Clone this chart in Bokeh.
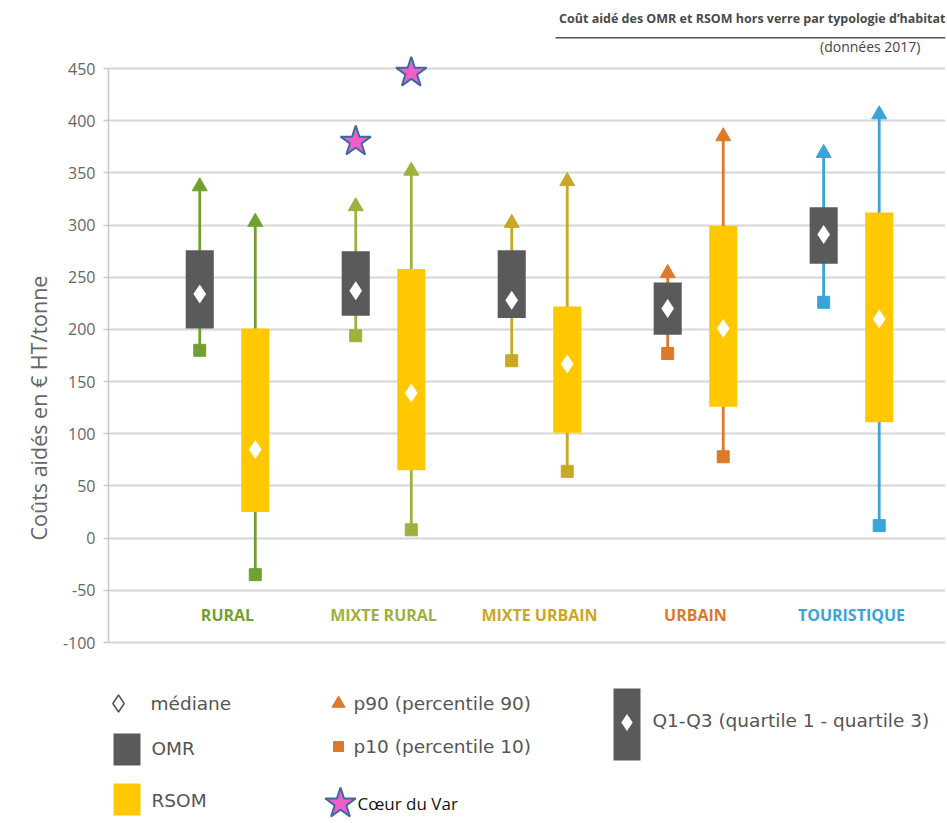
from bokeh.plotting import figure
from bokeh.models import (Range1d, FixedTicker, Label, BoxAnnotation, ColumnDataSource, Title,
                          PrintfTickFormatter)
from bokeh.layouts import column
from bokeh.embed import file_html
from bokeh.resources import INLINE
from bokeh.core.properties import value

# ---------------- data ----------------
categories = ["RURAL", "MIXTE RURAL", "MIXTE URBAIN", "URBAIN", "TOURISTIQUE"]
cat_colors = ["#72a030", "#9fb03c", "#c8a824", "#dc7a2a", "#38a4d8"]

omr_p10 = [180, 194, 170, 177, 226]
omr_q1 = [201, 213, 211, 195, 263]
omr_med = [234, 237, 228, 220, 291]
omr_q3 = [276, 275, 276, 245, 317]
omr_p90 = [337, 318, 302, 254, 369]

rsom_p10 = [-35, 8, 64, 78, 12]
rsom_q1 = [25, 65, 101, 126, 111]
rsom_med = [85, 139, 167, 201, 210]
rsom_q3 = [201, 258, 222, 299, 312]
rsom_p90 = [303, 352, 342, 385, 406]

coeur_group = [1, 1]          # MIXTE RURAL
coeur_series = ["OMR", "RSOM"]
coeur_values = [380, 446]

y_ticks = [-100, -50, 0, 50, 100, 150, 200, 250, 300, 350, 400, 450]

title_text = "Coût aidé des OMR et RSOM hors verre par typologie d\u2019habitat"
subtitle_text = "(données 2017)"
y_label = "Coûts aidés en € HT/tonne"

OMR_COLOR = "#5a5a5a"
RSOM_COLOR = "#ffc800"
STAR_FILL = "#ee5fcb"
STAR_LINE = "#3d6c9c"
TEXT_GRAY = "#555555"
MARK_ORANGE = "#dc7a2a"

# ---------------- chart ----------------
W = 947
H1 = 668
LEFT = 108
RIGHT = 2
FW = W - LEFT - RIGHT
p = figure(width=W, height=H1, output_backend="svg", toolbar_location=None,
           x_range=Range1d(-0.763, 4.603), y_range=Range1d(-124.9, 515.2),
           min_border_left=LEFT, min_border_right=RIGHT, min_border_top=0, min_border_bottom=0)
p.outline_line_color = None
p.xaxis.visible = False
p.xgrid.visible = False

yax = p.yaxis[0]
yax.ticker = FixedTicker(ticks=y_ticks)
yax.formatter = PrintfTickFormatter(format="%d")
yax.bounds = (-100, 450)
yax.axis_line_color = "#c8c8c8"
yax.axis_line_width = 1.5
yax.major_tick_line_color = "#c8c8c8"
yax.major_tick_line_width = 1.5
yax.major_tick_out = 5
yax.major_tick_in = 0
yax.minor_tick_line_color = None
yax.major_label_text_font = "Open Sans"
yax.major_label_text_font_size = "16px"
yax.major_label_text_color = "#666666"
yax.major_label_standoff = 8

p.add_layout(Title(text=y_label, align="left", offset=128, standoff=14,
                   text_font="Open Sans", text_font_size="21.5px",
                   text_font_style="normal", text_color="#666666"), "left")

p.ygrid.ticker = FixedTicker(ticks=y_ticks)
p.ygrid.grid_line_color = "#d6d6d6"
p.ygrid.grid_line_width = 2

off = 0.178
bw = 0.18
x_omr = [i - off for i in range(len(categories))]
x_rsom = [i + off for i in range(len(categories))]

src_omr = ColumnDataSource(dict(x=x_omr, p10=omr_p10, q1=omr_q1, med=omr_med, q3=omr_q3,
                                p90=omr_p90, c=cat_colors))
src_rsom = ColumnDataSource(dict(x=x_rsom, p10=rsom_p10, q1=rsom_q1, med=rsom_med, q3=rsom_q3,
                                 p90=rsom_p90, c=cat_colors))

for src, fill in ((src_omr, OMR_COLOR), (src_rsom, RSOM_COLOR)):
    p.segment(x0="x", y0="p10", x1="x", y1="p90", line_color="c", line_width=2.8, source=src)
    p.scatter(x="x", y="p90", marker="triangle", size=15, fill_color="c", line_color="c", source=src)
    p.scatter(x="x", y="p10", marker="square", size=12, fill_color="c", line_color="c", source=src)
    p.vbar(x="x", bottom="q1", top="q3", width=bw, fill_color=fill, line_color=None, source=src)
    p.scatter(x="x", y="med", marker="diamond", size=19, fill_color="white", line_color=None, source=src)

# Coeur du Var stars
star_x = [g - off if s == "OMR" else g + off for g, s in zip(coeur_group, coeur_series)]
p.scatter(x=star_x, y=coeur_values, marker="star", size=32, fill_color=STAR_FILL,
          line_color=STAR_LINE, line_width=2)

# category labels
p.text(x=list(range(len(categories))), y=[-74] * len(categories), text=categories,
       text_color=cat_colors, text_font=value("Open Sans"), text_font_style="bold",
       text_font_size="16px", text_align="center", text_baseline="middle")

# title + underline + subtitle (screen units relative to the frame)
p.add_layout(Label(x=FW, y=H1 - 18, x_units="screen", y_units="screen", text=title_text,
                   text_align="right", text_baseline="middle", text_font="Open Sans",
                   text_font_size="12.5px", text_font_style="bold", text_color="#4a4a4a"))
p.add_layout(BoxAnnotation(left=FW - 390, right=FW, bottom=H1 - 38, top=H1 - 36.5,
                           left_units="screen", right_units="screen",
                           bottom_units="screen", top_units="screen",
                           fill_color="#555555", fill_alpha=1, line_color=None))
p.add_layout(Label(x=FW - 25, y=H1 - 46, x_units="screen", y_units="screen", text=subtitle_text,
                   text_align="right", text_baseline="middle", text_font="Open Sans",
                   text_font_size="14px", text_color="#444444"))

# ---------------- legend ----------------
H2 = 823 - H1
lg = figure(width=W, height=H2, output_backend="svg", toolbar_location=None,
            x_range=Range1d(LEFT, W - RIGHT), y_range=Range1d(H2, 0),
            min_border_left=LEFT, min_border_right=RIGHT, min_border_top=0, min_border_bottom=0)
lg.outline_line_color = None
lg.axis.visible = False
lg.grid.visible = False

lf = value("DejaVu Sans")
fs = "18.5px"
lg.scatter(x=[118], y=[35], marker="diamond", size=17, fill_color="white",
           line_color="#555555", line_width=1.5)
lg.text(x=[150], y=[35], text=["médiane"], text_font=lf, text_font_size=fs,
        text_color=TEXT_GRAY, text_baseline="middle")

lg.rect(x=[126.5], y=[81], width=27, height=32, fill_color=OMR_COLOR, line_color=None)
lg.text(x=[151], y=[80], text=["OMR"], text_font=lf, text_font_size=fs,
        text_color=TEXT_GRAY, text_baseline="middle")
lg.rect(x=[126.5], y=[131], width=27, height=32, fill_color=RSOM_COLOR, line_color=None)
lg.text(x=[151], y=[132], text=["RSOM"], text_font=lf, text_font_size=fs,
        text_color=TEXT_GRAY, text_baseline="middle")

lg.scatter(x=[338], y=[35], marker="triangle", size=13, fill_color=MARK_ORANGE, line_color=MARK_ORANGE)
lg.text(x=[353], y=[35], text=["p90 (percentile 90)"], text_font=lf, text_font_size=fs,
        text_color=TEXT_GRAY, text_baseline="middle")
lg.scatter(x=[338], y=[78], marker="square", size=10, fill_color=MARK_ORANGE, line_color=MARK_ORANGE)
lg.text(x=[353], y=[78], text=["p10 (percentile 10)"], text_font=lf, text_font_size=fs,
        text_color=TEXT_GRAY, text_baseline="middle")
lg.scatter(x=[340], y=[135], marker="star", size=32, fill_color=STAR_FILL,
           line_color=STAR_LINE, line_width=2)
lg.text(x=[357], y=[135], text=["Cœur du Var"], text_font=value("Open Sans"), text_font_size="17px",
        text_color="#111111", text_baseline="middle")

lg.rect(x=[626.5], y=[56], width=27, height=72, fill_color=OMR_COLOR, line_color=None)
lg.scatter(x=[626.5], y=[54], marker="diamond", size=17, fill_color="white", line_color=None)
lg.text(x=[652], y=[52], text=["Q1-Q3 (quartile 1 - quartile 3)"], text_font=lf,
        text_font_size=fs, text_color=TEXT_GRAY, text_baseline="middle")

layout = column(p, lg, spacing=0)
open("out.html", "w").write(file_html(layout, INLINE))
